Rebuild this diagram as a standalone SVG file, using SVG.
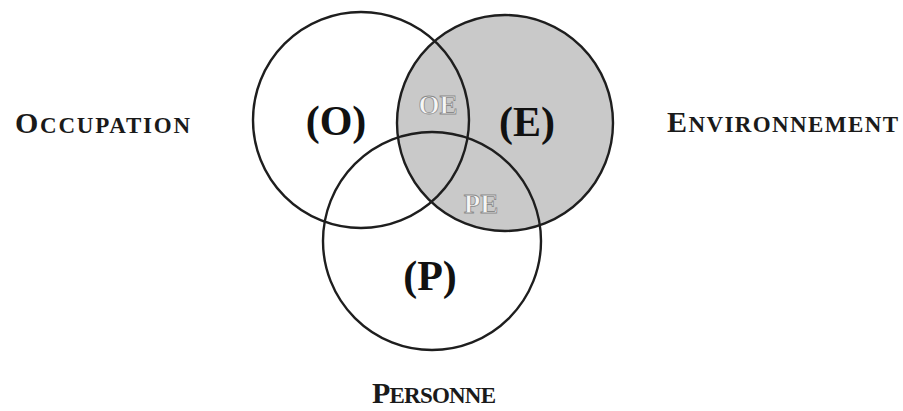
<svg xmlns="http://www.w3.org/2000/svg" width="903" height="411" viewBox="0 0 903 411">
<style>
.ring{fill:none;stroke:#1e1e1e;stroke-width:2.4}
.big{font-family:"Liberation Serif",serif;font-weight:bold;font-size:42px;fill:#111;text-anchor:middle}
.sub{font-family:"Liberation Serif",serif;font-weight:bold;font-size:27px;fill:#f6f6f6;stroke:#8a8a8a;stroke-width:0.8;text-anchor:middle}
.lab{font-family:"Liberation Serif",serif;font-weight:bold;fill:#1a1a1a}
.cap{font-size:30px}
.sc{font-size:23px}
</style>
<rect width="903" height="411" fill="#ffffff"/>
<g id="E-fill">
<circle cx="505" cy="123" r="108" fill="#c9c9c9"/>
</g>
<g id="OE"><text class="sub" x="438" y="114">OE</text></g>
<g id="PE"><text class="sub" x="481" y="213">PE</text></g>
<g id="connectors">
<circle class="ring" cx="361" cy="120" r="108"/>
<circle class="ring" cx="505" cy="123" r="108"/>
<circle class="ring" cx="432" cy="241" r="109"/>
</g>
<g id="O"><text class="big" x="336" y="135">(O)</text></g>
<g id="E"><text class="big" x="527" y="136">(E)</text></g>
<g id="P"><text class="big" x="430" y="290">(P)</text></g>
<g id="Occupation"><text class="lab" x="15" y="133" textLength="175" lengthAdjust="spacing"><tspan class="cap">O</tspan><tspan class="sc">CCUPATION</tspan></text></g>
<g id="Environnement"><text class="lab" x="667" y="132" textLength="231" lengthAdjust="spacing"><tspan class="cap">E</tspan><tspan class="sc">NVIRONNEMENT</tspan></text></g>
<g id="Personne"><text class="lab" x="372" y="403" textLength="124" lengthAdjust="spacing"><tspan class="cap">P</tspan><tspan class="sc">ERSONNE</tspan></text></g>
</svg>
